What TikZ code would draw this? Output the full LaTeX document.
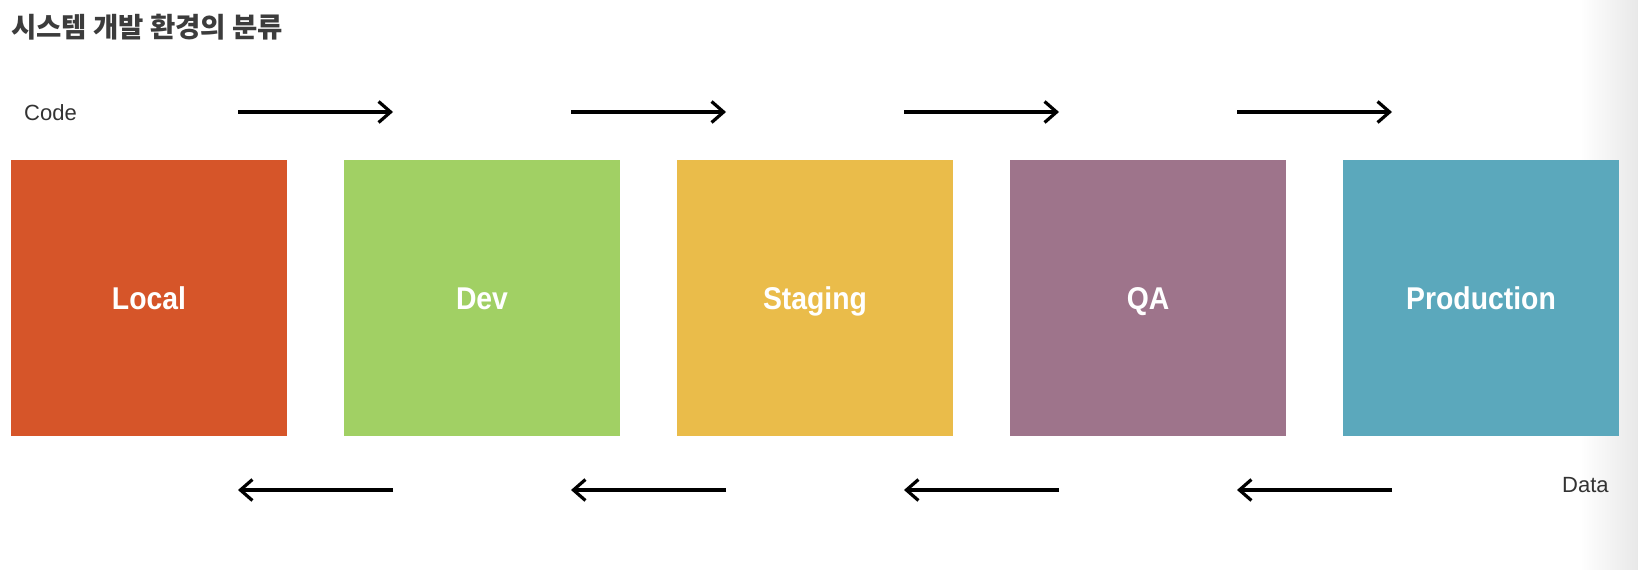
\documentclass[tikz,border=0pt]{standalone}
\usepackage{fontspec}
\usepackage{tikz}
\usetikzlibrary{calc, arrows.meta, positioning}
\newfontfamily\krfont{Noto Sans CJK KR}
\newfontfamily\labelfont[FakeStretch=0.9]{Liberation Sans}
\setmainfont{Liberation Sans}
\definecolor{titleGray}{HTML}{3C3C3C}
\definecolor{textGray}{HTML}{333333}
\definecolor{localRed}{HTML}{D65529}
\definecolor{devGreen}{HTML}{A1D064}
\definecolor{stagingYellow}{HTML}{EABC4A}
\definecolor{qaPurple}{HTML}{9E748B}
\definecolor{prodBlue}{HTML}{5BA8BC}

\begin{document}
\begin{tikzpicture}[x=1pt, y=-1pt,
    envbox/.style={minimum size=276pt, inner sep=0pt, outer sep=0pt, text=white,
        text height=22.6pt, text depth=0pt,
        font=\labelfont\bfseries\fontsize{31.5}{34}\selectfont},
    flow/.style={line width=3.2pt, line join=round, -{Straight Barb[length=12pt, width=21pt]}},
    sidelabel/.style={text=textGray, inner sep=0pt, font=\fontsize{22}{24}\selectfont}]
    \useasboundingbox (0,0) rectangle (1638,570);
    \shade[left color=white, right color=black!9] (1580,0) rectangle (1638,570);

    \node[anchor=west, inner sep=0pt, text=titleGray, font=\krfont\bfseries\fontsize{27.5}{30}\selectfont] (title) at (11,27) {시스템 개발 환경의 분류};

    \node[envbox, fill=localRed, anchor=north west] (local) at (11,160) {Local};
    \node[envbox, fill=devGreen, right=57pt of local] (dev) {Dev};
    \node[envbox, fill=stagingYellow, right=57pt of dev] (staging) {Staging};
    \node[envbox, fill=qaPurple, right=57pt of staging] (qa) {QA};
    \node[envbox, fill=prodBlue, right=57pt of qa] (prod) {Production};

    \node[sidelabel, anchor=base west] (code) at (24,120) {Code};
    \node[sidelabel, anchor=base west] (data) at (1562,492) {Data};

    \foreach \a/\b in {local/dev, dev/staging, staging/qa, qa/prod} {
        \draw[flow] ($(\a.north east)+(-49,-48)$) -- ($(\b.north west)+(49,-48)$);
        \draw[flow] ($(\b.south west)+(49,54)$) -- ($(\a.south east)+(-49,54)$);
    }
\end{tikzpicture}
\end{document}
